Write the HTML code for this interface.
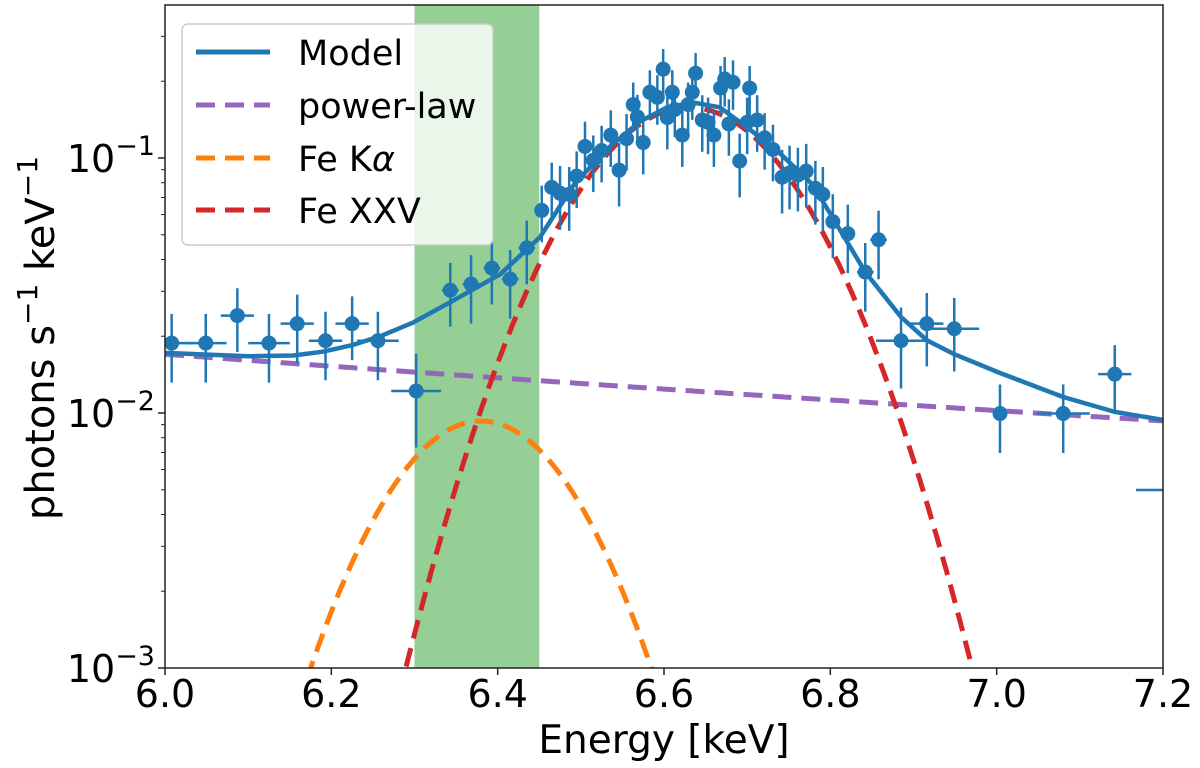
<!DOCTYPE html>
<html><head><meta charset="utf-8"><style>
html,body{margin:0;padding:0;background:#fff;overflow:hidden;width:1200px;height:768px;}
svg{display:block;font-family:"DejaVu Sans","Liberation Sans",sans-serif;}
</style></head><body>
<svg id="chart" width="1200" height="768" viewBox="0 0 1200 768" xmlns="http://www.w3.org/2000/svg">
<defs><clipPath id="clip"><rect x="165" y="5" width="998" height="663"/></clipPath></defs>
<rect x="0" y="0" width="1200" height="768" fill="#fff"/>
<g id="band" clip-path="url(#clip)"></g>
<g id="models" clip-path="url(#clip)"></g>
<g id="points" clip-path="url(#clip)"></g>
<g id="axes"></g>
<g id="legend"></g>
</svg>
<script>
const energy=[6.008,6.049,6.087,6.125,6.159,6.193,6.225,6.256,6.302,6.343,6.368,6.393,6.415,6.435,6.453,6.465,6.475,6.486,6.495,6.505,6.515,6.525,6.536,6.546,6.555,6.563,6.568,6.575,6.583,6.592,6.599,6.604,6.610,6.613,6.622,6.629,6.634,6.638,6.646,6.653,6.660,6.668,6.673,6.678,6.683,6.691,6.700,6.703,6.712,6.721,6.731,6.742,6.751,6.761,6.771,6.782,6.791,6.803,6.821,6.842,6.858,6.885,6.916,6.949,7.004,7.080,7.142];
const flux=[0.0188,0.0188,0.0241,0.0188,0.0224,0.0192,0.0224,0.0192,0.0122,0.0303,0.032,0.037,0.0335,0.0444,0.0623,0.0767,0.0727,0.072,0.0849,0.111,0.098,0.107,0.123,0.0896,0.119,0.162,0.145,0.115,0.181,0.173,0.223,0.144,0.181,0.155,0.123,0.162,0.181,0.215,0.141,0.138,0.123,0.188,0.204,0.136,0.198,0.0973,0.138,0.188,0.141,0.12,0.108,0.0841,0.0873,0.0857,0.0888,0.0761,0.072,0.0563,0.0505,0.0357,0.0478,0.0192,0.0224,0.0214,0.00995,0.00995,0.0142];
const relErr=[0.3,0.3,0.28,0.3,0.3,0.3,0.28,0.3,0.4,0.28,0.3,0.28,0.3,0.28,0.25,0.25,0.28,0.28,0.25,0.25,0.25,0.25,0.25,0.28,0.25,0.22,0.22,0.25,0.22,0.22,0.2,0.25,0.22,0.22,0.25,0.22,0.22,0.2,0.25,0.25,0.25,0.22,0.22,0.25,0.22,0.28,0.25,0.22,0.25,0.25,0.25,0.28,0.28,0.28,0.28,0.28,0.28,0.28,0.3,0.3,0.3,0.35,0.32,0.32,0.3,0.3,0.3];
const xErr=[0.025,0.025,0.02,0.025,0.02,0.02,0.02,0.025,0.03,0.01,0.01,0.01,0.01,0.01,0.008,0.005,0.005,0.005,0.005,0.005,0.005,0.005,0.005,0.005,0.005,0.004,0.004,0.004,0.004,0.004,0.004,0.004,0.004,0.004,0.004,0.004,0.004,0.004,0.004,0.004,0.004,0.004,0.004,0.004,0.004,0.005,0.005,0.005,0.005,0.005,0.005,0.005,0.005,0.005,0.005,0.005,0.005,0.005,0.008,0.01,0.01,0.03,0.02,0.03,0.0,0.032,0.02];
const modelEnergy=[6.0,6.1,6.154,6.190,6.226,6.259,6.298,6.343,6.403,6.451,6.491,6.531,6.571,6.604,6.635,6.667,6.700,6.739,6.779,6.842,6.885,6.916,6.949,7.004,7.080,7.142,7.2];
const modelFlux=[0.0172,0.0167,0.0168,0.0174,0.0185,0.0200,0.0226,0.0272,0.0350,0.049,0.078,0.108,0.139,0.158,0.165,0.158,0.132,0.1046,0.0784,0.0357,0.0238,0.0193,0.0170,0.01435,0.01155,0.0101,0.0094];
const xTicks=[6.0,6.2,6.4,6.6,6.8,7.0,7.2];
const yTicks=[-1,-2,-3];
const bandRange=[6.3,6.45];
const plNorm=0.017, plIndex=3.3;
const kaAmp=0.0093, kaCenter=6.38, kaSigma=0.097;
const fe25Amp=0.158, fe25Center=6.63, fe25Sigma=0.107;

const NS="http://www.w3.org/2000/svg";
const L=165,R=1163,T=5,B=668,Y0=158,DEC=255;
const xs=e=>L+(e-6.0)/1.2*(R-L);
const ys=v=>Y0-(Math.log10(v)+1)*DEC;
function mk(p,tag,at){const el=document.createElementNS(NS,tag);for(const k in at)el.setAttribute(k,at[k]);p.appendChild(el);return el;}
const band=document.getElementById('band'),models=document.getElementById('models'),pts=document.getElementById('points'),axes=document.getElementById('axes'),leg=document.getElementById('legend');

let r=mk(band,'rect',{x:xs(bandRange[0]),y:T,width:xs(bandRange[1])-xs(bandRange[0]),height:B-T,fill:'#2ca02c','fill-opacity':0.5});



const pl=e=>plNorm*Math.pow(e/6.0,-plIndex);
const ka=e=>kaAmp*Math.exp(-Math.pow(e-kaCenter,2)/(2*kaSigma*kaSigma));
const fe=e=>fe25Amp*Math.exp(-Math.pow(e-fe25Center,2)/(2*fe25Sigma*fe25Sigma));
function curve(f,color,name){let d='';for(let i=0;i<=600;i++){const e=6+1.2*i/600;const v=f(e);const y=Math.min(ys(Math.max(v,1e-6)),2000);d+=(i?'L':'M')+xs(e).toFixed(1)+','+y.toFixed(1);}
const p=mk(models,'path',{d:d,fill:'none',stroke:color,'stroke-width':5,'stroke-dasharray':'19,10'});

}
curve(pl,'#9467bd','power-law-line');
curve(ka,'#ff7f0e','fe-kalpha-line');
curve(fe,'#d62728','fe-xxv-line');
let md='';modelEnergy.forEach((e,i)=>{md+=(i?'L':'M')+xs(e).toFixed(1)+','+ys(modelFlux[i]).toFixed(1);});
let mp=mk(models,'path',{d:md,fill:'none',stroke:'#1f77b4','stroke-width':4.5,'stroke-linejoin':'round'});



for(let i=0;i<energy.length;i++){
 const g=mk(pts,'g',{});
 
 
 const x=xs(energy[i]),y=ys(flux[i]);
 mk(g,'line',{x1:x,x2:x,y1:ys(flux[i]*(1+relErr[i])),y2:ys(flux[i]*(1-relErr[i])),stroke:'#1f77b4','stroke-width':2.5});
 mk(g,'line',{x1:xs(energy[i]-xErr[i]),x2:xs(energy[i]+xErr[i]),y1:y,y2:y,stroke:'#1f77b4','stroke-width':2.5});
 mk(g,'circle',{cx:x,cy:y,r:7.5,fill:'#1f77b4'});
}
let tl=mk(pts,'line',{x1:1136,x2:1163,y1:490,y2:490,stroke:'#1f77b4','stroke-width':2.5});



let fr=mk(axes,'rect',{x:L,y:T,width:R-L,height:B-T,fill:'none',stroke:'#222','stroke-width':1.5});


xTicks.forEach(t=>{const x=xs(t);mk(axes,'line',{x1:x,x2:x,y1:B,y2:B+7,stroke:'#222','stroke-width':1.5});
 const tx=mk(axes,'text',{x:x,y:B+39,'text-anchor':'middle','font-size':38,fill:'#000'});tx.textContent=t.toFixed(1);
 
 });
yTicks.forEach(p=>{const y=ys(Math.pow(10,p));mk(axes,'line',{x1:L-7,x2:L,y1:y,y2:y,stroke:'#222','stroke-width':1.5});
 const tx=mk(axes,'text',{x:L-10,y:y+14,'text-anchor':'end','font-size':38,fill:'#000'});
 tx.innerHTML='10<tspan dy="-17" font-size="27">−'+(-p)+'</tspan>';
 
 
 if(p>-3){for(let m=2;m<=9;m++){const yy=ys(m*Math.pow(10,p-1));mk(axes,'line',{x1:L-4,x2:L,y1:yy,y2:yy,stroke:'#222','stroke-width':1});}}});
for(let m=2;m<=4;m++){const yy=ys(m*0.1);if(yy>T)mk(axes,'line',{x1:L-4,x2:L,y1:yy,y2:yy,stroke:'#222','stroke-width':1});}
let xl=mk(axes,'text',{x:664,y:753,'text-anchor':'middle','font-size':39,fill:'#000'});xl.textContent='Energy [keV]';


let yl=mk(axes,'text',{x:0,y:0,'text-anchor':'middle','font-size':40,fill:'#000',transform:'translate(54,338) rotate(-90)'});
yl.innerHTML='photons s<tspan dy="-17" font-size="28">−1</tspan><tspan dy="17"> keV</tspan><tspan dy="-17" font-size="28">−1</tspan>';



let lb=mk(leg,'rect',{x:182,y:24,width:311,height:221,rx:6,fill:'#fff','fill-opacity':0.8,stroke:'#ccc','stroke-width':1.5});


const legItems=[['Model','#1f77b4',null,52,'legend-model'],['power-law','#9467bd','19,10',105,'legend-power-law'],['Fe Kα','#ff7f0e','19,10',158,'legend-fe-kalpha'],['Fe XXV','#d62728','19,10',210,'legend-fe-xxv']];
legItems.forEach(it=>{const g=mk(leg,'g',{});
 
 
 mk(g,'line',{x1:196,x2:270,y1:it[3],y2:it[3],stroke:it[1],'stroke-width':5,'stroke-dasharray':it[2]||'none'});
 const t=mk(g,'text',{x:298,y:it[3]+13,'font-size':35,fill:'#000'});
 if(it[0]==='Fe Kα'){t.innerHTML='Fe K<tspan font-style="italic">α</tspan>';}else t.textContent=it[0];});
</script>
</body></html>
